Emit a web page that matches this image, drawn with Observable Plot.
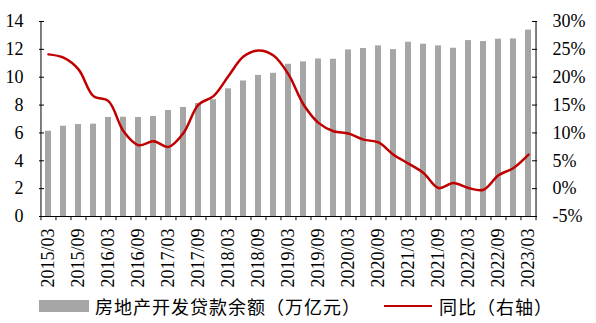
<!DOCTYPE html>
<html>
<head>
<meta charset="utf-8">
<script src="https://cdn.jsdelivr.net/npm/d3@7"></script>
<script src="https://cdn.jsdelivr.net/npm/@observablehq/plot@0.6"></script>
<style>
  html, body { margin: 0; padding: 0; background: #fff; }
  #chart { width: 596px; }
  .legend { display: flex; align-items: center; height: 26px; padding-left: 39px;
    font-family: "Noto Sans CJK SC", sans-serif; font-size: 18px; letter-spacing: 1px; color: #000; }
  .sw-bar { width: 50px; height: 12px; background: #A6A6A6; margin-right: 6px; }
  .sw-line { width: 48px; height: 2.5px; background: #C00000; margin-left: 23px; margin-right: 7px; }
</style>
</head>
<body>
<div id="chart"></div>
<script>
// Quarter labels
const quarters = [
  "2015/03","2015/06","2015/09","2015/12",
  "2016/03","2016/06","2016/09","2016/12",
  "2017/03","2017/06","2017/09","2017/12",
  "2018/03","2018/06","2018/09","2018/12",
  "2019/03","2019/06","2019/09","2019/12",
  "2020/03","2020/06","2020/09","2020/12",
  "2021/03","2021/06","2021/09","2021/12",
  "2022/03","2022/06","2022/09","2022/12",
  "2023/03"
];
// 房地产开发贷款余额（万亿元）
const loanBalance = [
  6.12, 6.48, 6.60, 6.63,
  7.11, 7.13, 7.11, 7.18,
  7.61, 7.83, 8.12, 8.38,
  9.17, 9.73, 10.13, 10.28,
  10.93, 11.10, 11.31, 11.29,
  11.96, 12.06, 12.25, 11.98,
  12.51, 12.37, 12.25, 12.08,
  12.63, 12.56, 12.73, 12.75,
  13.38
];
// 同比（%，右轴）
const yoy = [
  24.1, 23.5, 21.4, 16.6,
  15.7, 10.3, 7.8, 8.5,
  7.5, 10.0, 15.1, 16.6,
  20.2, 23.7, 24.8, 23.9,
  20.5, 15.1, 11.8, 10.3,
  9.9, 8.8, 8.3, 6.1,
  4.5, 2.8, 0.1, 1.0,
  0.1, -0.2, 2.4, 3.7,
  6.1
];
const leftTicks = [0, 2, 4, 6, 8, 10, 12, 14];
const rightTicks = [-5, 0, 5, 10, 15, 20, 25, 30];
const xLabels = quarters.filter((d, i) => i % 2 === 0);

const leftDomain = [0, 14];
const rightDomain = [-5, 30];
// map right-axis percentage into left-axis units
const toLeft = p => leftDomain[0] + (p - rightDomain[0]) / (rightDomain[1] - rightDomain[0]) * (leftDomain[1] - leftDomain[0]);

const data = quarters.map((q, i) => ({q, loan: loanBalance[i], yoy: yoy[i]}));
const W = 596, H = 293;
const mLeft = 39, mRight = 60;
const step = (W - mLeft - mRight) / quarters.length;
const serif = "'Liberation Serif', 'Times New Roman', serif";

const plot = Plot.plot({
  width: W,
  height: H,
  marginLeft: mLeft,
  marginRight: mRight,
  marginTop: 21,
  marginBottom: 77,
  style: {fontFamily: serif, fontSize: "18px", color: "#000", background: "#fff"},
  x: {domain: quarters, paddingInner: 0.6, paddingOuter: 0.3, axis: null},
  y: {domain: leftDomain, axis: null},
  marks: [
    Plot.barY(data, {x: "q", y: "loan", fill: "#A6A6A6"}),
    Plot.line(data, {x: "q", y: d => toLeft(d.yoy), stroke: "#C00000", strokeWidth: 2.5, curve: "catmull-rom"}),
    // left axis
    Plot.axisY({anchor: "left", ticks: leftTicks, tickSize: 0, tickPadding: 16, label: null, fontSize: 18, fontFamily: serif}),
    Plot.axisY({anchor: "left", ticks: leftTicks, tickSize: -5, tickFormat: () => "", label: null, stroke: "#000"}),
    Plot.ruleX([quarters[0]], {y1: leftDomain[0], y2: leftDomain[1], dx: -step / 2, stroke: "#000"}),
    // right axis
    Plot.axisY({anchor: "right", ticks: rightTicks.map(toLeft), tickSize: 0, tickPadding: 16,
      tickFormat: v => `${Math.round(rightDomain[0] + (v - leftDomain[0]) / (leftDomain[1] - leftDomain[0]) * (rightDomain[1] - rightDomain[0]))}%`,
      label: null, fontSize: 18, fontFamily: serif}),
    Plot.axisY({anchor: "right", ticks: rightTicks.map(toLeft), tickSize: -5, tickFormat: () => "", label: null, stroke: "#000"}),
    Plot.ruleX([quarters[quarters.length - 1]], {y1: leftDomain[0], y2: leftDomain[1], dx: step / 2, stroke: "#000"}),
    // bottom axis
    Plot.ruleY([0], {stroke: "#000"}),
    Plot.ruleX(quarters, {x: d => d, y1: 0, y2: -0.3, dx: -step / 2, stroke: "#000"}),
    Plot.ruleX([quarters[quarters.length - 1]], {y1: 0, y2: -0.3, dx: step / 2, stroke: "#000"}),
    Plot.axisX({ticks: xLabels, tickSize: 0, tickPadding: 12, tickRotate: -90, label: null, fontSize: 18, fontFamily: serif})
  ]
});
document.getElementById("chart").appendChild(plot);

const legend = document.createElement("div");
legend.className = "legend";
legend.innerHTML = `<span class="sw-bar"></span><span>房地产开发贷款余额（万亿元）</span><span class="sw-line"></span><span>同比（右轴）</span>`;
document.getElementById("chart").appendChild(legend);
</script>
</body>
</html>
